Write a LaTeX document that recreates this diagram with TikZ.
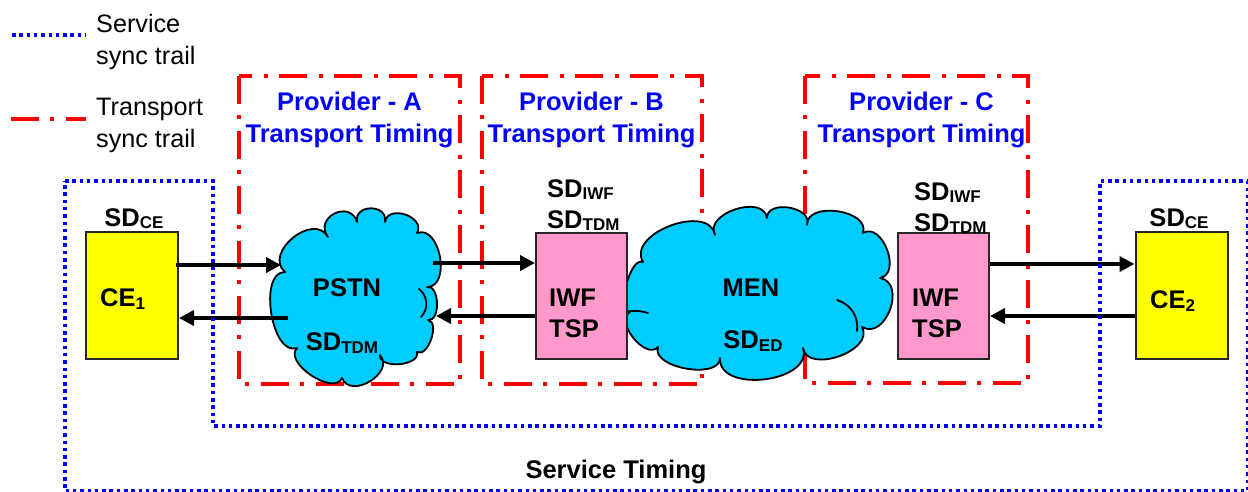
\documentclass[tikz,border=0pt]{standalone}
\usepackage{fontspec}
\setmainfont{Liberation Sans}
\usetikzlibrary{arrows.meta}
\definecolor{cloudc}{HTML}{00CCFF}
\definecolor{pinkc}{HTML}{FF99CC}
\definecolor{yelc}{HTML}{FFFF00}
\definecolor{bluc}{HTML}{0000FF}
\definecolor{redc}{HTML}{FF0000}
\newcommand\sbx[1]{\raisebox{-2.5pt}{\fontsize{17}{17}\selectfont #1}}
\begin{document}
\begin{tikzpicture}[x=1pt,y=-1pt,
  font=\fontsize{25.5}{31}\selectfont,
  servicetrail/.style={bluc, line width=3.5pt, dash pattern=on 3.5pt off 3.8pt},
  transtrail/.style={redc, line width=4pt, dash pattern=on 28pt off 11pt on 4pt off 12pt},
  cebox/.style={draw=black!85, line width=2pt, fill=yelc, minimum width=92pt, minimum height=127pt, inner sep=0pt},
  iwfbox/.style={draw=black!85, line width=2pt, fill=pinkc, minimum width=91pt, minimum height=126pt, inner sep=0pt},
  cloudline/.style={draw=black, line width=1.8pt, fill=cloudc, line join=round},
  innerarc/.style={draw=black, line width=1.8pt, line cap=round},
  puff/.style={bend left=100, looseness=#1},
  puff/.default=1.2,
  arr/.style={line width=4pt, -{Triangle[length=15pt,width=15pt]}},
  lbl/.style={inner sep=0pt, font=\fontsize{25.5}{31}\selectfont\bfseries},
  prov/.style={inner sep=0pt, text=bluc, align=center, font=\fontsize{25.5}{32}\selectfont\bfseries},
  leg/.style={inner sep=0pt, anchor=west, align=left, font=\fontsize{25.2}{32}\selectfont}
]
\useasboundingbox (0,0) rectangle (1248,491);

% legend
\draw[servicetrail] (12,35) -- (86,35);
\draw[transtrail] (11,119) -- (86,119);
\node[leg] (legs) at (96,42) {Service\\sync trail};
\node[leg] (legt) at (96,125) {Transport\\sync trail};

% transport trails
\draw[transtrail] (239,76) rectangle (460,384);
\draw[transtrail] (482,76) rectangle (702,384);
\draw[transtrail] (805,76) rectangle (1028,383);

% PSTN cloud
\coordinate (pstn) at (353,300);
\draw[cloudline] (285,272) to[puff=1.35] (328,237) to[puff=1.9] (357,222)
  to[puff=1.7] (385,222) to[puff=1.4] (417,233) to[puff=1.15] (427,287)
  to[puff=1.0] (428,320) to[puff=0.95] (417,352) to[puff=1.0] (380,355)
  to[puff=1.35] (342,378) to[puff=0.95] (297,348) to[puff=0.9] (285,272) -- cycle;
\draw[innerarc] (419,289) to[bend left=50] (421,317);

% MEN cloud
\coordinate (men) at (760,295);
\draw[cloudline] (643,262) to[puff=1.1] (715,235) to[puff=1.15] (767,218)
  to[puff=1.2] (807,225) to[puff=1.1] (863,233) to[puff=1.2] (880,278)
  to[puff=1.35] (862,327) to[puff=1.1] (803,348) to[puff=1.1] (720,358)
  to[puff=0.9] (658,347) to[puff=1.05] (630,312) to[puff=0.7] (643,262) -- cycle;
\draw[innerarc] (837,300) to[bend left=40] (857,331);
\draw[innerarc] (630,311) to[bend left=10] (648,313);

% boxes (nodes)
\node[cebox] (ce1) at (132,295.5) {};
\node[cebox] (ce2) at (1181.5,295.5) {};
\node[iwfbox] (iwfb) at (581.5,295.5) {};
\node[iwfbox] (iwfc) at (943.5,295.5) {};

% arrows
\coordinate (pstnin) at (281,265);
\coordinate (pstnout) at (288,318);
\coordinate (pstnr1) at (433,263);
\coordinate (pstnr2) at (436,316);
\draw[arr] ([xshift=-3pt]ce1.east |- pstnin) -- (pstnin);
\draw[arr] (pstnout) -- (ce1.east |- pstnout);
\draw[arr] (pstnr1) -- (iwfb.west |- pstnr1);
\draw[arr] (iwfb.west |- pstnr2) -- (pstnr2);
\coordinate (iwfcr1) at (989,264);
\coordinate (iwfcr2) at (990,316);
\draw[arr] (iwfc.east |- iwfcr1) -- (ce2.west |- iwfcr1);
\draw[arr] (ce2.west |- iwfcr2) -- (iwfc.east |- iwfcr2);

% service trail
\draw[servicetrail] (65,181) -- (213,181) -- (213,426) -- (1100,426) -- (1100,181) -- (1247.5,181) -- (1247.5,491) -- (65,491) -- cycle;

% labels
\node[prov] (pa) at (349.5,120) {Provider - A\\Transport Timing};
\node[prov] (pb) at (591.5,120) {Provider - B\\Transport Timing};
\node[prov] (pc) at (921.5,120) {Provider - C\\Transport Timing};

\node[lbl, anchor=south] (sdce1) at (134,229) {SD\sbx{CE}};
\node[lbl, anchor=south] (sdce2) at (1179,229) {SD\sbx{CE}};
\node[lbl, anchor=west] (tce1) at (100,299) {CE\sbx{1}};
\node[lbl, anchor=west] (tce2) at (1150,301) {CE\sbx{2}};

\node[lbl, anchor=west, align=left] (sdb) at (547,205) {SD\sbx{IWF}\\SD\sbx{TDM}};
\node[lbl, anchor=west, align=left] (sdc) at (914,208) {SD\sbx{IWF}\\SD\sbx{TDM}};
\node[lbl, anchor=west, align=left] (twb) at (549,313) {IWF\\TSP};
\node[lbl, anchor=west, align=left] (twc) at (912,313) {IWF\\TSP};

\node[lbl] (tpstn) at (347,288) {PSTN};
\node[lbl] (tsdtdm) at (342,343) {SD\sbx{TDM}};
\node[lbl] (tmen) at (751,288) {MEN};
\node[lbl] (tsded) at (753,341) {SD\sbx{ED}};

\node[lbl] (st) at (616,472) {Service Timing};
\end{tikzpicture}
\end{document}
